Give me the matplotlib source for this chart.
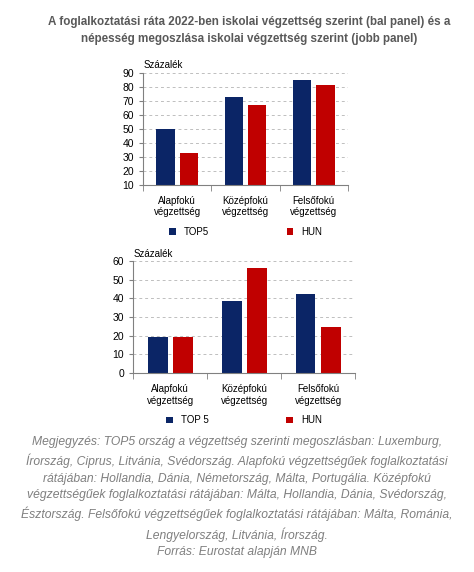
import matplotlib
matplotlib.use('Agg')
import matplotlib.pyplot as plt
import numpy as np

categories = ['Alapfokú\nvégzettség', 'Középfokú\nvégzettség', 'Felsőfokú\nvégzettség']
top5_rate = [50, 72.5, 84.5]
hun_rate = [33, 67, 81.5]
top5_share = [19.5, 38.5, 42]
hun_share = [19, 56, 24.5]

navy = '#0b2566'
red = '#c00000'
grey = '#7f7f7f'

plt.rcParams['font.family'] = ['Liberation Sans', 'DejaVu Sans']
fig = plt.figure(figsize=(4.74, 5.72), dpi=100)

fig.text(0.525, 0.972, 'A foglalkoztatási ráta 2022-ben iskolai végzettség szerint (bal panel) és a\n'
         'népesség megoszlása iskolai végzettség szerint (jobb panel)',
         ha='center', va='top', fontsize=8.4, fontweight='bold', color='#595959', linespacing=1.6)


def panel(rect, a, b, ylim, step, leg):
    ax = fig.add_axes(rect)
    x = np.arange(len(categories))
    w = 0.27
    ax.bar(x - 0.17, a, w, color=navy, label=leg)
    ax.bar(x + 0.17, b, w, color=red, label='HUN')
    ax.set_xlim(-0.5, 2.5)
    ax.set_ylim(*ylim)
    ax.set_yticks(np.arange(ylim[0], ylim[1] + 1, step))
    ax.set_xticks(x)
    ax.set_xticklabels(categories, fontsize=7)
    ax.set_xticks([-0.5, 0.5, 1.5, 2.5], minor=True)
    ax.tick_params(axis='x', which='major', length=0, pad=8)
    ax.tick_params(axis='x', which='minor', length=4, color='#808080')
    ax.tick_params(axis='y', labelsize=7.5, length=3, color='#808080')
    ax.yaxis.grid(True, linestyle=(0, (3, 3)), color='#bfbfbf', lw=0.7)
    ax.set_axisbelow(True)
    for s in ['top', 'right']:
        ax.spines[s].set_visible(False)
    for s in ['left', 'bottom']:
        ax.spines[s].set_color('#808080')
    ax.text(0.0, 1.02, 'Százalék', transform=ax.transAxes, fontsize=7, va='bottom')
    ax.legend(loc='upper center', bbox_to_anchor=(0.5, -0.3), ncol=2, frameon=False,
              fontsize=7, handlelength=0.7, handleheight=0.7, columnspacing=8)
    return ax


panel([0.302, 0.677, 0.432, 0.196], top5_rate, hun_rate, (10, 90), 10, 'TOP5')
panel([0.281, 0.348, 0.468, 0.196], top5_share, hun_share, (0, 60), 10, 'TOP 5')

note = ('Megjegyzés: TOP5 ország a végzettség szerinti megoszlásban: Luxemburg,\n'
        'Írország, Ciprus, Litvánia, Svédország. Alapfokú végzettségűek foglalkoztatási\n'
        'rátájában: Hollandia, Dánia, Németország, Málta, Portugália. Középfokú\n'
        'végzettségűek foglalkoztatási rátájában: Málta, Hollandia, Dánia, Svédország,\n'
        'Észtország. Felsőfokú végzettségűek foglalkoztatási rátájában: Málta, Románia,\n'
        'Lengyelország, Litvánia, Írország.\n'
        'Forrás: Eurostat alapján MNB')
fig.text(0.5, 0.238, note, ha='center', va='top', fontsize=8.7, style='italic',
         color=grey, linespacing=1.5)

fig.savefig('out.png', dpi=100)
